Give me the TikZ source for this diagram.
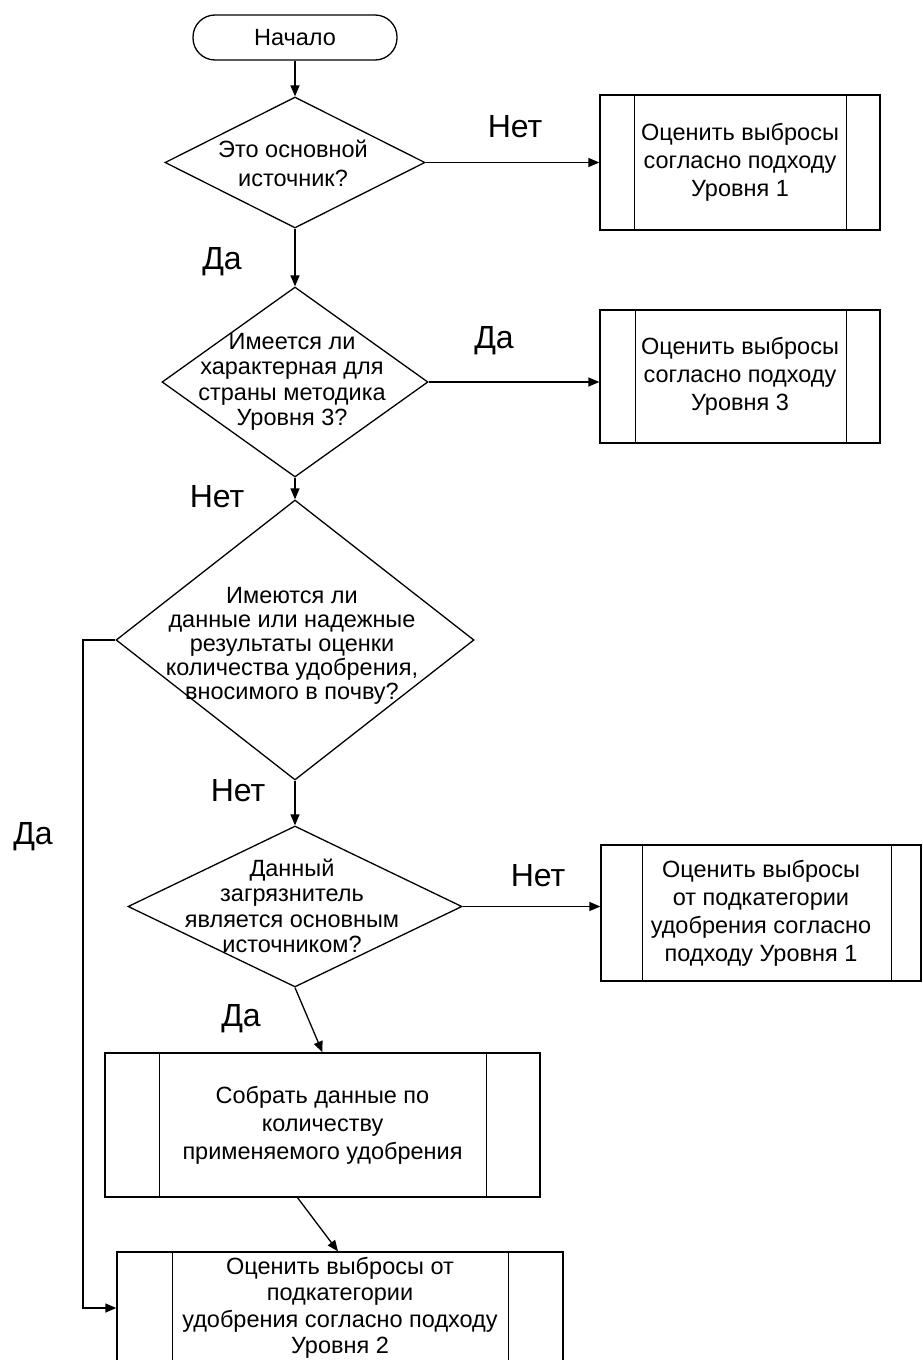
\documentclass[tikz,border=0pt]{standalone}
\usepackage{fontspec}
\setmainfont{Liberation Sans}
\usetikzlibrary{shapes.geometric,arrows.meta}
\begin{document}
\begin{tikzpicture}[x=1pt,y=-1pt,
  line width=1.3pt,
  arr/.style={-{Triangle[length=11pt,width=9pt]}},
  dia/.style={draw,diamond,inner sep=0pt},
  proc/.style={draw,rectangle,inner sep=0pt,align=center,font=\fontsize{23.5}{28}\selectfont},
  txt/.style={align=center,inner sep=0pt,font=\fontsize{23.5}{25.5}\selectfont},
  lab/.style={inner sep=0pt,font=\fontsize{32}{36}\selectfont},
  term/.style={draw,rectangle,rounded corners=22pt,inner sep=0pt,minimum width=204pt,minimum height=45pt,font=\fontsize{23.5}{28}\selectfont}
]
\useasboundingbox (0,0) rectangle (923,1360);
\clip (0,0) rectangle (923,1360);

% start
\node[term] (t) at (295,37.5) {Начало};

% decision 1
\node[dia,minimum width=260pt,minimum height=131pt] (d1) at (295,162.5) {};
\node[txt,font=\fontsize{23.5}{29}\selectfont] (d1t) at (293,163) {Это основной\\источник?};

% box 1
\node[proc,minimum width=280pt,minimum height=135pt] (b1) at (740,162.5) {Оценить выбросы\\согласно подходу\\Уровня 1};
\draw ([xshift=35pt]b1.north west) -- ([xshift=35pt]b1.south west);
\draw ([xshift=-34pt]b1.north east) -- ([xshift=-34pt]b1.south east);

% decision 2
\node[dia,minimum width=266pt,minimum height=190pt] (d2) at (295,382) {};
\node[txt] (d2t) at (292,382) {Имеется ли\\характерная для\\страны методика\\Уровня 3?};

% box 2
\node[proc,minimum width=280pt,minimum height=133pt] (b2) at (740,376.5) {Оценить выбросы\\согласно подходу\\Уровня 3};
\draw ([xshift=36pt]b2.north west) -- ([xshift=36pt]b2.south west);
\draw ([xshift=-34pt]b2.north east) -- ([xshift=-34pt]b2.south east);

% decision 3
\node[dia,minimum width=358pt,minimum height=280pt] (d3) at (295,640) {};
\node[txt,font=\fontsize{23.5}{24}\selectfont] (d3t) at (292,646) {Имеются ли\\данные или надежные\\результаты оценки\\количества удобрения,\\вносимого в почву?};

% decision 4
\node[dia,minimum width=334pt,minimum height=161pt] (d4) at (295,906.5) {};
\node[txt] (d4t) at (292,906) {Данный\\загрязнитель\\является основным\\источником?};

% box 4
\node[proc,minimum width=320pt,minimum height=136pt] (b4) at (761,913) {Оценить выбросы\\от подкатегории\\удобрения согласно\\подходу Уровня 1};
\draw ([xshift=42pt]b4.north west) -- ([xshift=42pt]b4.south west);
\draw ([xshift=-30pt]b4.north east) -- ([xshift=-30pt]b4.south east);

% box 5
\node[proc,minimum width=435pt,minimum height=144pt] (b5) at (322.5,1125) {Собрать данные по\\количеству\\применяемого удобрения};
\draw ([xshift=55pt]b5.north west) -- ([xshift=55pt]b5.south west);
\draw ([xshift=-54pt]b5.north east) -- ([xshift=-54pt]b5.south east);

% box 6
\node[proc,font=\fontsize{23.5}{26.5}\selectfont,minimum width=446pt,minimum height=112pt] (b6) at (340,1308) {Оценить выбросы от\\подкатегории\\удобрения согласно подходу\\Уровня 2};
\draw ([xshift=56pt]b6.north west) -- ([xshift=56pt]b6.south west);
\draw ([xshift=-55pt]b6.north east) -- ([xshift=-55pt]b6.south east);

% connectors
\coordinate (c1) at (83,640);
\draw[arr] (t.south) -- (d1.north);
\draw[arr] (d1.east) -- (d1.east -| b1.west);
\draw[arr] (d1.south) -- (d2.north);
\draw[arr] (d2.east) -- (d2.east -| b2.west);
\draw[arr] (d2.south) -- (d3.north);
\draw[arr] (d3.west) -- (c1) |- (b6.west);
\draw[arr] (d3.south) -- (d4.north);
\draw[arr] (d4.east) -- (d4.east -| b4.west);
\draw[arr] (d4.south) -- (b5.north);
\draw[arr] ([xshift=-25pt]b5.south) -- ([xshift=-2pt]b6.north);

% labels
\node[lab] (l1) at (515,127) {Нет};
\node[lab] (l2) at (222,262) {Да};
\node[lab] (l3) at (494,341) {Да};
\node[lab] (l4) at (217,497) {Нет};
\node[lab] (l5) at (33,837) {Да};
\node[lab] (l6) at (238,791) {Нет};
\node[lab] (l7) at (538,876) {Нет};
\node[lab] (l8) at (241,1019) {Да};
\end{tikzpicture}
\end{document}
